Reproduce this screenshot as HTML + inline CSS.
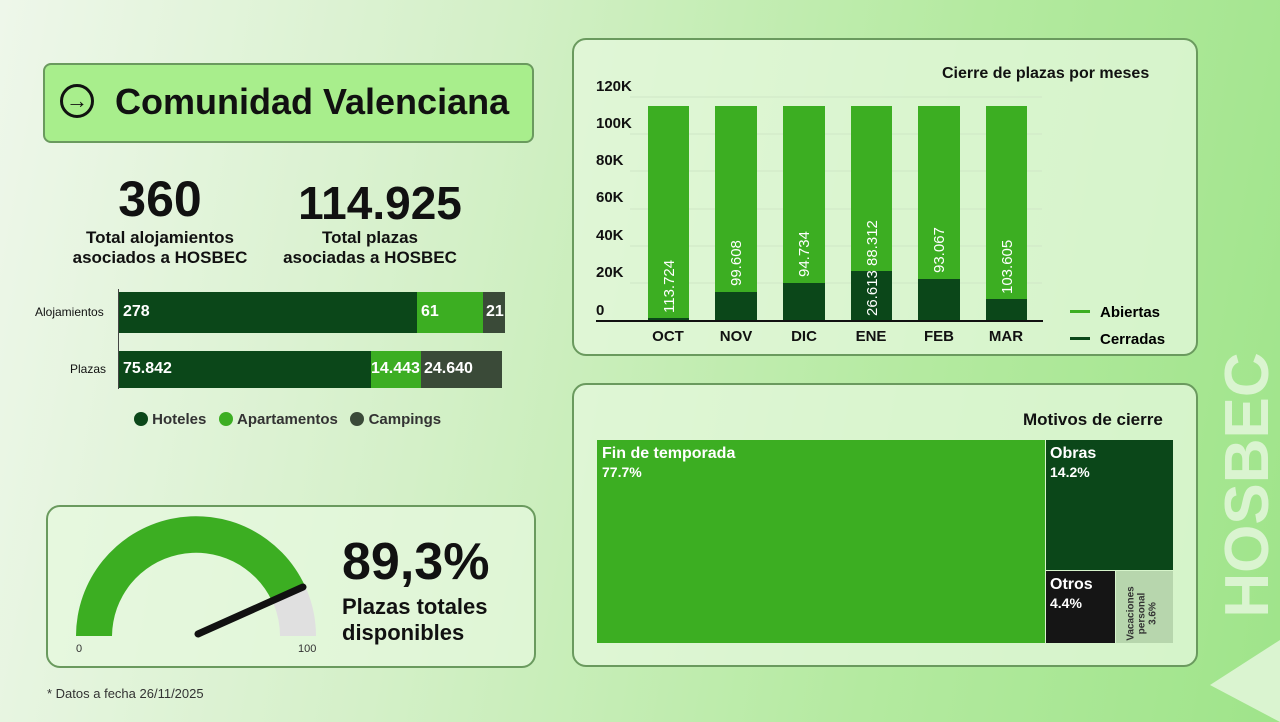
<!DOCTYPE html>
<html><head><meta charset="utf-8"><style>
*{margin:0;padding:0;box-sizing:border-box}
body{width:1280px;height:722px;overflow:hidden;position:relative;font-family:"Liberation Sans",sans-serif;background:linear-gradient(100deg,#eef7ea 0%,#d4f0c8 35%,#b4eaa0 70%,#9fe48a 100%);color:#111}
.a{position:absolute}
.card{position:absolute;border:2px solid #6a9a5e;border-radius:14px;background:rgba(230,248,222,.75)}
.b{font-weight:bold}
.c{text-align:center}
</style></head><body>
<div class="a" style="left:43px;top:63px;width:491px;height:80px;background:#a8ee8c;border:2px solid #6a9a5e;border-radius:8px"></div>
<div class="a" style="left:60px;top:84px;width:34px;height:34px;border:3px solid #111;border-radius:50%;font-size:22px;line-height:27px;text-align:center;font-weight:bold">→</div>
<div class="a b" style="left:115px;top:81px;font-size:36px;white-space:nowrap">Comunidad Valenciana</div>

<div class="a b c" style="left:60px;top:170px;width:200px;font-size:50px">360</div>
<div class="a b c" style="left:60px;top:228px;width:200px;font-size:17px;line-height:20px">Total alojamientos<br>asociados a HOSBEC</div>
<div class="a b c" style="left:270px;top:176px;width:220px;font-size:46px">114.925</div>
<div class="a b c" style="left:270px;top:228px;width:200px;font-size:17px;line-height:20px">Total plazas<br>asociadas a HOSBEC</div>

<div class="a" style="left:35px;top:305px;font-size:12px">Alojamientos</div>
<div class="a" style="left:70px;top:362px;font-size:12px">Plazas</div>
<div class="a" style="left:118px;top:289px;width:1px;height:100px;background:#444"></div>
<div class="a b" style="left:119px;top:292px;width:298px;height:41px;background:#0b4719;color:#fff;font-size:16px;padding:11px 4px">278</div>
<div class="a b" style="left:417px;top:292px;width:66px;height:41px;background:#3cae22;color:#fff;font-size:16px;padding:11px 4px">61</div>
<div class="a b" style="left:483px;top:292px;width:22px;height:41px;background:#3a4a38;color:#fff;font-size:16px;padding:11px 3px">21</div>
<div class="a b" style="left:119px;top:351px;width:252px;height:37px;background:#0b4719;color:#fff;font-size:16px;padding:9px 4px">75.842</div>
<div class="a b" style="left:371px;top:351px;width:50px;height:37px;background:#3cae22;color:#fff;font-size:16px;padding:9px 0 0 0">14.443</div>
<div class="a b" style="left:421px;top:351px;width:81px;height:37px;background:#3a4a38;color:#fff;font-size:16px;padding:9px 3px">24.640</div>
<div class="a" style="left:134px;top:411px;font-size:15px;color:#333"><span style="display:inline-block;width:14px;height:14px;border-radius:50%;background:#0b4719;vertical-align:-2px"></span> <b>Hoteles</b> &nbsp; <span style="display:inline-block;width:14px;height:14px;border-radius:50%;background:#3cae22;vertical-align:-2px"></span> <b>Apartamentos</b> &nbsp; <span style="display:inline-block;width:14px;height:14px;border-radius:50%;background:#3a4a38;vertical-align:-2px"></span> <b>Campings</b></div>

<div class="card" style="left:46px;top:505px;width:490px;height:163px"></div>
<svg class="a" style="left:60px;top:510px" width="280" height="150">
<path d="M16,126 A120,120 0 0 1 256,126 L220,126 A84,84 0 0 0 52,126 Z" fill="#e0e0e0"/>
<path d="M16,126 A120,120 0 0 1 245,76 L212,91 A84,84 0 0 0 52,126 Z" fill="#3cae22"/>
<line x1="138" y1="124" x2="243" y2="77" stroke="#111" stroke-width="7" stroke-linecap="round"/>
<text x="16" y="142" font-size="11" font-family="Liberation Sans" fill="#333">0</text>
<text x="238" y="142" font-size="11" font-family="Liberation Sans" fill="#333">100</text>
</svg>
<div class="a b" style="left:342px;top:532px;font-size:52px">89,3%</div>
<div class="a b" style="left:342px;top:594px;font-size:22px;line-height:26px">Plazas totales<br>disponibles</div>
<div class="a" style="left:47px;top:686px;font-size:13px;color:#333">* Datos a fecha 26/11/2025</div>

<div class="card" style="left:572px;top:38px;width:626px;height:318px"></div>
<div class="a b" style="left:942px;top:65px;font-size:16px">Cierre de plazas por meses</div>
<svg class="a" style="left:590px;top:70px" width="600" height="285" font-family="Liberation Sans">
<g font-weight="bold" font-size="15" fill="#111">
<text x="6" y="21">120K</text><text x="6" y="58">100K</text><text x="6" y="132">60K</text><text x="6" y="95">80K</text><text x="6" y="170">40K</text><text x="6" y="207">20K</text><text x="6" y="245">0</text>
</g>
<g stroke="#cfe6c6" stroke-width="1"><line x1="40" y1="27" x2="452" y2="27"/><line x1="40" y1="64" x2="452" y2="64"/><line x1="40" y1="101" x2="452" y2="101"/><line x1="40" y1="139" x2="452" y2="139"/><line x1="40" y1="176" x2="452" y2="176"/><line x1="40" y1="213" x2="452" y2="213"/></g>
<g fill="#3cae22"><rect x="58" y="36" width="41" height="215"/><rect x="125" y="36" width="42" height="215"/><rect x="193" y="36" width="42" height="215"/><rect x="261" y="36" width="41" height="215"/><rect x="328" y="36" width="42" height="215"/><rect x="396" y="36" width="41" height="215"/></g>
<g fill="#0b4719"><rect x="58" y="248" width="41" height="3"/><rect x="125" y="222" width="42" height="29"/><rect x="193" y="213" width="42" height="38"/><rect x="261" y="201" width="41" height="50"/><rect x="328" y="209" width="42" height="42"/><rect x="396" y="229" width="41" height="22"/></g>
<line x1="6" y1="251" x2="453" y2="251" stroke="#111" stroke-width="2"/>
<g fill="#fff" font-size="15">
<text transform="translate(84,243) rotate(-90)">113.724</text>
<text transform="translate(151,216) rotate(-90)">99.608</text>
<text transform="translate(219,207) rotate(-90)">94.734</text>
<text transform="translate(287,196) rotate(-90)">88.312</text>
<text transform="translate(287,246) rotate(-90)">26.613</text>
<text transform="translate(354,203) rotate(-90)">93.067</text>
<text transform="translate(422,224) rotate(-90)">103.605</text>
</g>
<g font-weight="bold" font-size="15" fill="#111" text-anchor="middle"><text x="78" y="271">OCT</text><text x="146" y="271">NOV</text><text x="214" y="271">DIC</text><text x="281" y="271">ENE</text><text x="349" y="271">FEB</text><text x="416" y="271">MAR</text></g>
<rect x="480" y="240" width="20" height="3" fill="#3cae22"/><text x="510" y="247" font-weight="bold" font-size="15">Abiertas</text>
<rect x="480" y="267" width="20" height="3" fill="#0b4719"/><text x="510" y="274" font-weight="bold" font-size="15">Cerradas</text>
</svg>

<div class="card" style="left:572px;top:383px;width:626px;height:284px"></div>
<div class="a b" style="left:1023px;top:410px;font-size:17px">Motivos de cierre</div>
<div class="a b" style="left:597px;top:440px;width:448px;height:203px;background:#3cae22;color:#fff;font-size:16px;padding:4px 5px;line-height:19px">Fin de temporada<br><span style="font-size:14px">77.7%</span></div>
<div class="a b" style="left:1046px;top:440px;width:127px;height:130px;background:#0b4719;color:#fff;font-size:16px;padding:4px 4px;line-height:19px">Obras<br><span style="font-size:14px">14.2%</span></div>
<div class="a b" style="left:1046px;top:571px;width:69px;height:72px;background:#151515;color:#fff;font-size:16px;padding:4px 4px;line-height:19px">Otros<br><span style="font-size:14px">4.4%</span></div>
<div class="a" style="left:1116px;top:571px;width:57px;height:72px;background:#b7d6ad"></div>
<div class="a b" style="left:1092px;top:597px;width:100px;font-size:10px;line-height:11px;color:#333;transform:rotate(-90deg);text-align:center">Vacaciones<br>personal<br>3.6%</div>

<div class="a b" style="left:1058px;top:448px;width:380px;height:74px;line-height:74px;transform:rotate(-90deg);font-size:62px;color:#e4f7dc;text-align:center;opacity:.85">HOSBEC</div>
<svg class="a" style="left:1205px;top:635px" width="75" height="87"><polygon points="75,5 5,50 75,87" fill="#e4f7dc" opacity=".85"/></svg>
</body></html>
